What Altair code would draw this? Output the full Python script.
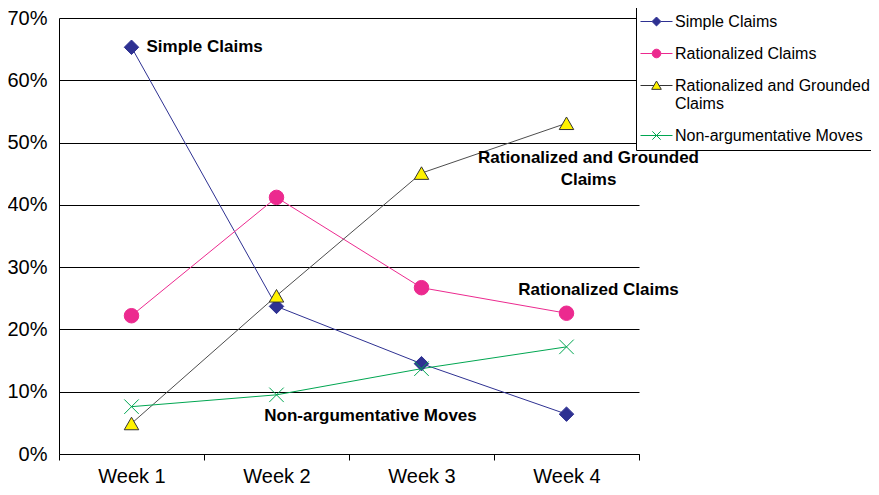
import altair as alt
import pandas as pd

FONT = "Liberation Sans"

weeks = ["Week 1", "Week 2", "Week 3", "Week 4"]
series_names = ["Simple Claims", "Rationalized Claims",
                "Rationalized and Grounded Claims", "Non-argumentative Moves"]
simple = [65.3, 23.7, 14.5, 6.4]
rationalized = [22.2, 41.2, 26.7, 22.6]
grounded = [4.9, 25.4, 45.1, 53.1]
nonarg = [7.6, 9.5, 13.7, 17.2]
y_ticks = [0, 10, 20, 30, 40, 50, 60, 70]

line_colors = ["#2E3192", "#EC2A8F", "#4D4D4D", "#00A651"]
fill_colors = ["#2E3192", "#EC2A8F", "#FFF200", "transparent"]
stroke_colors = ["#2E3192", "#EC2A8F", "#333333", "#00A651"]
plot_shapes = ["diamond", "circle", "triangle-up", "M-1,-1L1,1M-1,1L1,-1"]
legend_shapes = [
    "M-2,0H-0.56M0.56,0H2M0,-0.56L0.56,0L0,0.56L-0.56,0Z",
    "M-2,0H-0.54M0.54,0H2M0.54,0A0.54,0.54,0,1,1,-0.54,0A0.54,0.54,0,1,1,0.54,0Z",
    "M-2,0H-0.32M0.32,0H2M0,-0.56L0.6,0.48L-0.6,0.48Z",
    "M-2,0H2M-0.52,-0.52L0.52,0.52M-0.52,0.52L0.52,-0.52",
]

# annotation anchors (category + value of the first text line)
ann_text = ["Simple Claims", "Rationalized and Grounded\nClaims",
            "Rationalized Claims", "Non-argumentative Moves"]
ann_week = ["Week 1", "Week 4", "Week 4", "Week 3"]
ann_value = [65.3, 47.5, 26.3, 6.1]

rows = []
for name, vals in zip(series_names, [simple, rationalized, grounded, nonarg]):
    for w, v in zip(weeks, vals):
        rows.append({"week": w, "series": name, "value": v})
df = pd.DataFrame(rows)
ann = pd.DataFrame({"week": ann_week, "value": ann_value, "label": ann_text})

x_enc = alt.X("week:N", sort=weeks,
              scale=alt.Scale(type="band", domain=weeks, paddingInner=0, paddingOuter=0),
              axis=alt.Axis(title=None, labelFontSize=20, labelFont=FONT, labelColor="black",
                            labelAngle=0, domainColor="black", tickColor="black", tickSize=6,
                            tickBand="extent", labelPadding=6, grid=False))
y_enc = alt.Y("value:Q", scale=alt.Scale(domain=[0, 70], nice=False),
              axis=alt.Axis(title=None, values=y_ticks, labelExpr="datum.value + '%'",
                            labelFontSize=20, labelFont=FONT, labelColor="black",
                            gridColor="black", gridOpacity=1, gridWidth=1,
                            domainColor="black", ticks=False, labelPadding=12))

base = alt.Chart(df)

lines = base.mark_line(strokeWidth=1).encode(
    x=x_enc, y=y_enc,
    color=alt.Color("series:N", scale=alt.Scale(domain=series_names, range=line_colors),
                    legend=None),
)

points = base.mark_point(size=210, strokeWidth=1, opacity=1).encode(
    x=x_enc, y=y_enc,
    shape=alt.Shape("series:N", scale=alt.Scale(domain=series_names, range=plot_shapes),
                    legend=None),
    fill=alt.Fill("series:N", scale=alt.Scale(domain=series_names, range=fill_colors),
                  legend=None),
    stroke=alt.Stroke("series:N", scale=alt.Scale(domain=series_names, range=stroke_colors),
                      legend=None),
)

leg = alt.Legend(
    orient="none", legendX=577, legendY=-11, title=None,
    labelFont=FONT, labelFontSize=16, labelColor="black", labelLimit=400,
    labelExpr="datum.label == 'Rationalized and Grounded Claims' ? ['Rationalized and Grounded', 'Claims'] : datum.label",
    strokeColor="black", fillColor="white", padding=6, rowPadding=15,
    symbolSize=256, symbolStrokeWidth=1, symbolOffset=6, labelOffset=10, columns=1,
    symbolOpacity=1,
)

legend_layer = base.transform_filter("false").mark_point(strokeWidth=1, opacity=1).encode(
    x=x_enc, y=y_enc,
    shape=alt.Shape("series:N", scale=alt.Scale(domain=series_names, range=legend_shapes),
                    legend=leg),
    fill=alt.Fill("series:N", scale=alt.Scale(domain=series_names, range=fill_colors),
                  legend=leg),
    stroke=alt.Stroke("series:N", scale=alt.Scale(domain=series_names, range=stroke_colors),
                      legend=leg),
)

ann_base = alt.Chart(ann)
text_kw = dict(font=FONT, fontSize=17, fontWeight="bold", color="black", baseline="middle")
t1 = ann_base.transform_filter(alt.datum.label == ann_text[0]).mark_text(
    align="left", dx=15, **text_kw).encode(x=x_enc, y=y_enc, text="label:N")
t2 = ann_base.transform_filter(alt.datum.label == ann_text[1]).mark_text(
    align="center", dx=22, lineBreak="\n", lineHeight=22, **text_kw).encode(
    x=x_enc, y=y_enc, text="label:N")
t3 = ann_base.transform_filter(alt.datum.label == ann_text[2]).mark_text(
    align="center", dx=32, **text_kw).encode(x=x_enc, y=y_enc, text="label:N")
t4 = ann_base.transform_filter(alt.datum.label == ann_text[3]).mark_text(
    align="center", dx=-51, **text_kw).encode(x=x_enc, y=y_enc, text="label:N")

chart = alt.layer(lines, points, t1, t2, t3, t4, legend_layer).resolve_scale(
    shape="independent", fill="independent", stroke="independent"
).properties(
    width=580, height=436,
    padding={"left": 51, "top": 10, "right": 232, "bottom": 33},
    autosize="none",
    background="white",
).configure_view(stroke=None)

chart.save("out.html", embed_options={"renderer": "svg", "actions": False})
